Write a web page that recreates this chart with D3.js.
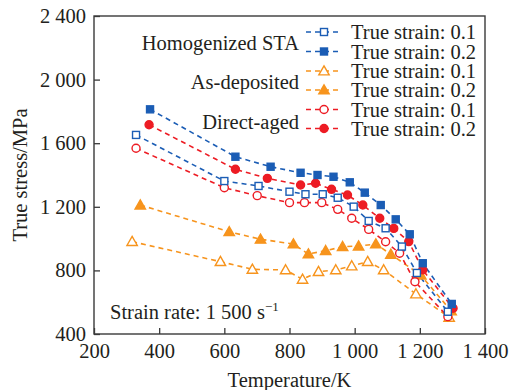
<!DOCTYPE html>
<html>
<head>
<meta charset="utf-8">
<script src="https://cdn.jsdelivr.net/npm/d3@7"></script>
<style>
  body { margin: 0; background: #fff; }
  svg text { font-family: "Liberation Serif", "Times New Roman", serif; fill: #231f20; }
</style>
</head>
<body>
<script>
// DATA
var xTicks = [200, 400, 600, 800, 1000, 1200, 1400];
var yTicks = [400, 800, 1200, 1600, 2000, 2400];

var stTemp01 = [329, 600, 705, 800, 849, 902, 948, 997, 1043, 1095, 1145, 1191, 1286];
var stVal01  = [1652, 1362, 1331, 1295, 1279, 1279, 1257, 1201, 1111, 1065, 950, 784, 540];
var stTemp02 = [372, 634, 742, 834, 886, 935, 985, 1031, 1080, 1126, 1169, 1209, 1298];
var stVal02  = [1813, 1515, 1452, 1414, 1400, 1389, 1354, 1289, 1211, 1121, 1027, 845, 589];

var adTemp01 = [317, 588, 686, 788, 840, 889, 942, 991, 1040, 1089, 1188, 1290];
var adVal01  = [981, 855, 807, 803, 744, 792, 803, 828, 855, 803, 652, 505];
var adTemp02 = [342, 615, 711, 812, 858, 911, 963, 1012, 1065, 1111, 1203, 1296];
var adVal02  = [1211, 1043, 996, 966, 903, 924, 949, 953, 966, 901, 770, 545];

var daTemp01 = [329, 600, 701, 800, 846, 899, 948, 991, 1043, 1095, 1138, 1185, 1286];
var daVal01  = [1568, 1320, 1270, 1226, 1226, 1226, 1184, 1128, 1058, 980, 908, 729, 509];
var daTemp02 = [369, 634, 732, 834, 880, 929, 978, 1025, 1077, 1120, 1166, 1209, 1302];
var daVal02  = [1716, 1436, 1379, 1337, 1348, 1310, 1274, 1211, 1128, 1064, 981, 803, 562];

var groupNames = ["Homogenized STA", "As-deposited", "Direct-aged"];
var strainLabels = ["True strain: 0.1", "True strain: 0.2"];

var BLUE = "#1b5db5", ORANGE = "#f7941d", RED = "#ed1c24";

var series = [
  {t: adTemp01, v: adVal01, color: ORANGE, shape: "tri", filled: false},
  {t: adTemp02, v: adVal02, color: ORANGE, shape: "tri", filled: true},
  {t: daTemp01, v: daVal01, color: RED, shape: "circle", filled: false},
  {t: daTemp02, v: daVal02, color: RED, shape: "circle", filled: true},
  {t: stTemp01, v: stVal01, color: BLUE, shape: "square", filled: false},
  {t: stTemp02, v: stVal02, color: BLUE, shape: "square", filled: true}
];

var legendOrder = [4, 5, 0, 1, 2, 3];

// CANVAS
var W = 511, H = 390;
var pLeft = 94, pRight = 485, pTop = 16, pBottom = 334;
var FS = "20.5px";

var svg = d3.select("body").append("svg")
    .attr("width", W).attr("height", H);

var x = d3.scaleLinear().domain([200, 1400]).range([pLeft, pRight]);
var y = d3.scaleLinear().domain([400, 2400]).range([pBottom, pTop]);

function fmt(d) {
  return String(d).replace(/\B(?=(\d{3})+$)/g, " ");
}

// AXES (ticks pointing inwards)
var xAxis = d3.axisBottom(x).tickValues(xTicks).tickSize(-6).tickPadding(9).tickFormat(fmt);
var yAxis = d3.axisLeft(y).tickValues(yTicks).tickSize(-6).tickPadding(8).tickFormat(fmt);

var gx = svg.append("g").attr("transform", "translate(0," + pBottom + ")").call(xAxis);
var gy = svg.append("g").attr("transform", "translate(" + pLeft + ",0)").call(yAxis);
[gx, gy].forEach(function(g) {
  g.select(".domain").remove();
  g.selectAll(".tick line").attr("stroke", "#3a3a3a").attr("stroke-width", 1.3);
  g.selectAll(".tick text").style("font-size", FS).attr("fill", "#231f20");
});

svg.append("rect")
    .attr("x", pLeft).attr("y", pTop)
    .attr("width", pRight - pLeft).attr("height", pBottom - pTop)
    .attr("fill", "none").attr("stroke", "#3a3a3a").attr("stroke-width", 1.4);

svg.append("text")
    .attr("x", (pLeft + pRight) / 2).attr("y", 387)
    .attr("text-anchor", "middle").style("font-size", FS)
    .text("Temperature/K");

svg.append("text")
    .attr("transform", "translate(27," + ((pTop + pBottom) / 2) + ") rotate(-90)")
    .attr("text-anchor", "middle").style("font-size", FS)
    .text("True stress/MPa");

// MARKERS
function drawMarker(g, shape, color, filled, cx, cy) {
  var fill = filled ? color : "#fff";
  if (shape === "square") {
    g.append("rect").attr("x", cx - 3.5).attr("y", cy - 3.5).attr("width", 7).attr("height", 7)
      .attr("fill", fill).attr("stroke", color).attr("stroke-width", 1.4);
  } else if (shape === "circle") {
    g.append("circle").attr("cx", cx).attr("cy", cy).attr("r", 4)
      .attr("fill", fill).attr("stroke", color).attr("stroke-width", 1.4);
  } else {
    var s = 5.2;
    g.append("path")
      .attr("d", "M" + cx + "," + (cy - s) + "L" + (cx + s) + "," + (cy + s * 0.75) + "L" + (cx - s) + "," + (cy + s * 0.75) + "Z")
      .attr("fill", fill).attr("stroke", color).attr("stroke-width", 1.4);
  }
}

var line = d3.line().x(function(d) { return x(d[0]); }).y(function(d) { return y(d[1]); });

series.forEach(function(s) {
  var pts = s.t.map(function(t, i) { return [t, s.v[i]]; });
  svg.append("path").datum(pts)
    .attr("d", line).attr("fill", "none")
    .attr("stroke", s.color).attr("stroke-width", 1.6)
    .attr("stroke-dasharray", "5,4");
});
series.forEach(function(s) {
  var g = svg.append("g");
  s.t.forEach(function(t, i) { drawMarker(g, s.shape, s.color, s.filled, x(t), y(s.v[i])); });
});

// LEGEND
var legY = [32, 51.5, 71, 90, 109.5, 128.5];
legendOrder.forEach(function(k, i) {
  var s = series[k];
  var g = svg.append("g");
  g.append("line").attr("x1", 306).attr("x2", 342).attr("y1", legY[i]).attr("y2", legY[i])
    .attr("stroke", s.color).attr("stroke-width", 1.6).attr("stroke-dasharray", "5,4");
  drawMarker(g, s.shape, s.color, s.filled, 324, legY[i]);
  g.append("text").attr("x", 351).attr("y", legY[i] + 7)
    .style("font-size", FS).text(strainLabels[i % 2]);
});

var groupY = [50, 89, 129];
groupNames.forEach(function(n, i) {
  svg.append("text").attr("x", 299).attr("y", groupY[i])
    .attr("text-anchor", "end").style("font-size", FS).text(n);
});

svg.append("text").attr("x", 110).attr("y", 319).style("font-size", FS)
  .text("Strain rate: 1 500 s")
  .append("tspan").attr("dy", -8).style("font-size", "13px").text("\u22121");
</script>
</body>
</html>
